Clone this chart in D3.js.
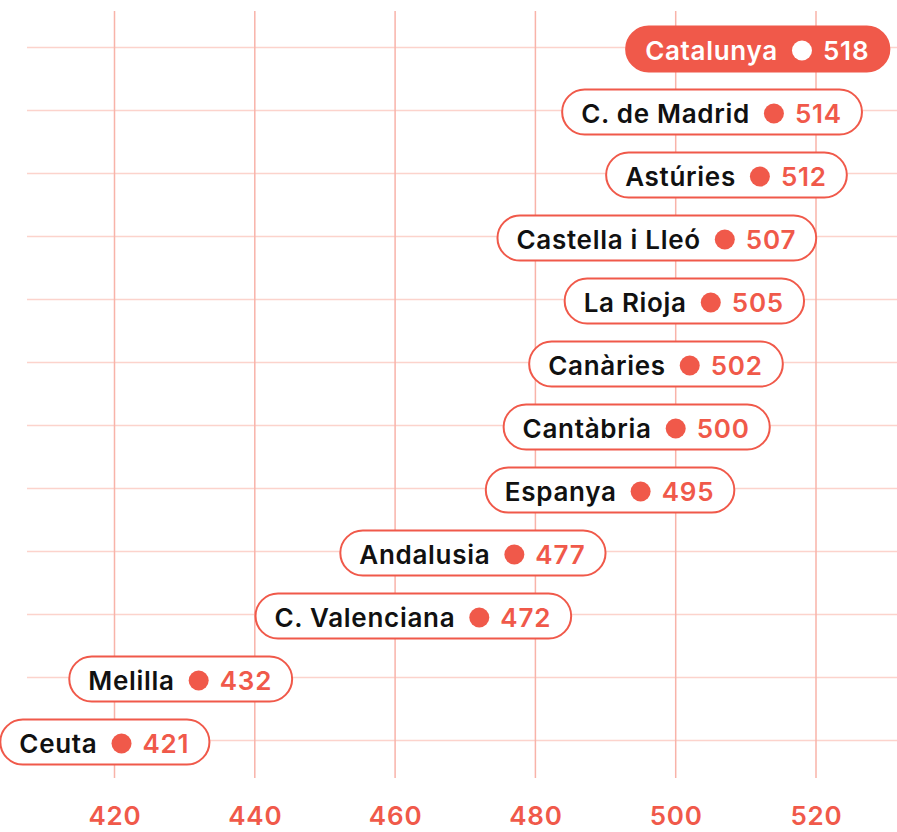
<!DOCTYPE html>
<html lang="ca">
<head>
    <meta charset="utf-8">
    <script src="https://d3js.org/d3.v7.min.js"></script>
    <title>Puntuacions per comunitat</title>
    <style>
        body { margin: 0; background: #fff; }
        svg text { font-family: Inter, "Noto Sans", sans-serif; }
    </style>
</head>
<body>
<div class="chart"></div>
<script>
    // dades
    var regions = ["Catalunya", "C. de Madrid", "Astúries", "Castella i Lleó", "La Rioja", "Canàries",
                   "Cantàbria", "Espanya", "Andalusia", "C. Valenciana", "Melilla", "Ceuta"];
    var scores = [518, 514, 512, 507, 505, 502, 500, 495, 477, 472, 432, 421];
    var highlight = "Catalunya";
    var tickValues = [420, 440, 460, 480, 500, 520];

    var width = 897, height = 832;
    var red = "#f0594a", gridV = "#f8b3a9", gridH = "#fcd3cc";

    var svg = d3.select("div.chart").append("svg")
        .attr("width", width)
        .attr("height", height);

    // escales
    var x = d3.scaleLinear().domain([420, 520]).range([114.5, 816]);
    var y = d3.scalePoint().domain(regions).range([47.5, 740.5]);

    // graella
    var grid = svg.append("g").attr("class", "grid");
    grid.selectAll("line.h")
        .data(regions)
        .enter().append("line")
        .attr("class", "h")
        .attr("x1", 27).attr("x2", width)
        .attr("y1", function(d){ return y(d); })
        .attr("y2", function(d){ return y(d); })
        .attr("stroke", gridH).attr("stroke-width", 1.5);
    grid.selectAll("line.v")
        .data(tickValues)
        .enter().append("line")
        .attr("class", "v")
        .attr("x1", function(d){ return x(d); })
        .attr("x2", function(d){ return x(d); })
        .attr("y1", 11).attr("y2", 778)
        .attr("stroke", gridV).attr("stroke-width", 1.5);

    // eix inferior
    var axis = svg.append("g")
        .attr("transform", "translate(0,825)")
        .call(d3.axisBottom(x).tickValues(tickValues).tickSize(0).tickPadding(0));
    axis.select(".domain").remove();
    axis.selectAll("text")
        .attr("dy", 0)
        .attr("fill", red)
        .style("font-family", "Inter, sans-serif")
        .style("font-size", "26px")
        .style("font-weight", 600)
        .style("letter-spacing", "0.8px");

    // etiquetes en càpsula
    var r = 10, padL = 19, padR = 20, gapL = 14, gapR = 11, pillH = 45;
    var rows = svg.append("g").attr("class", "pills");

    regions.forEach(function(name, i){
        var v = scores[i], cx = x(v), cy = y(name);
        var on = name === highlight;
        var g = rows.append("g");

        var pill = g.append("rect");

        var label = g.append("text")
            .attr("x", cx - r - gapL)
            .attr("y", cy + 12.5)
            .attr("text-anchor", "end")
            .attr("fill", on ? "#fff" : "#111")
            .style("font-size", "26px")
            .style("font-weight", 600)
            .style("letter-spacing", "0.7px")
            .text(name);

        var num = g.append("text")
            .attr("x", cx + r + gapR)
            .attr("y", cy + 12.5)
            .attr("fill", on ? "#fff" : red)
            .style("font-size", "26px")
            .style("font-weight", 600)
            .style("letter-spacing", "0.8px")
            .text(v);

        g.append("circle")
            .attr("cx", cx)
            .attr("cy", cy + 3)
            .attr("r", r)
            .attr("fill", on ? "#fff" : red);

        var left = cx - r - gapL - label.node().getComputedTextLength() - padL;
        var right = cx + r + gapR + num.node().getComputedTextLength() + padR;
        pill.attr("x", left)
            .attr("y", cy + 1.5 - pillH / 2)
            .attr("width", right - left)
            .attr("height", pillH)
            .attr("rx", pillH / 2)
            .attr("fill", on ? red : "#fff")
            .attr("stroke", red)
            .attr("stroke-width", 2);
    });
</script>
</body>
</html>
